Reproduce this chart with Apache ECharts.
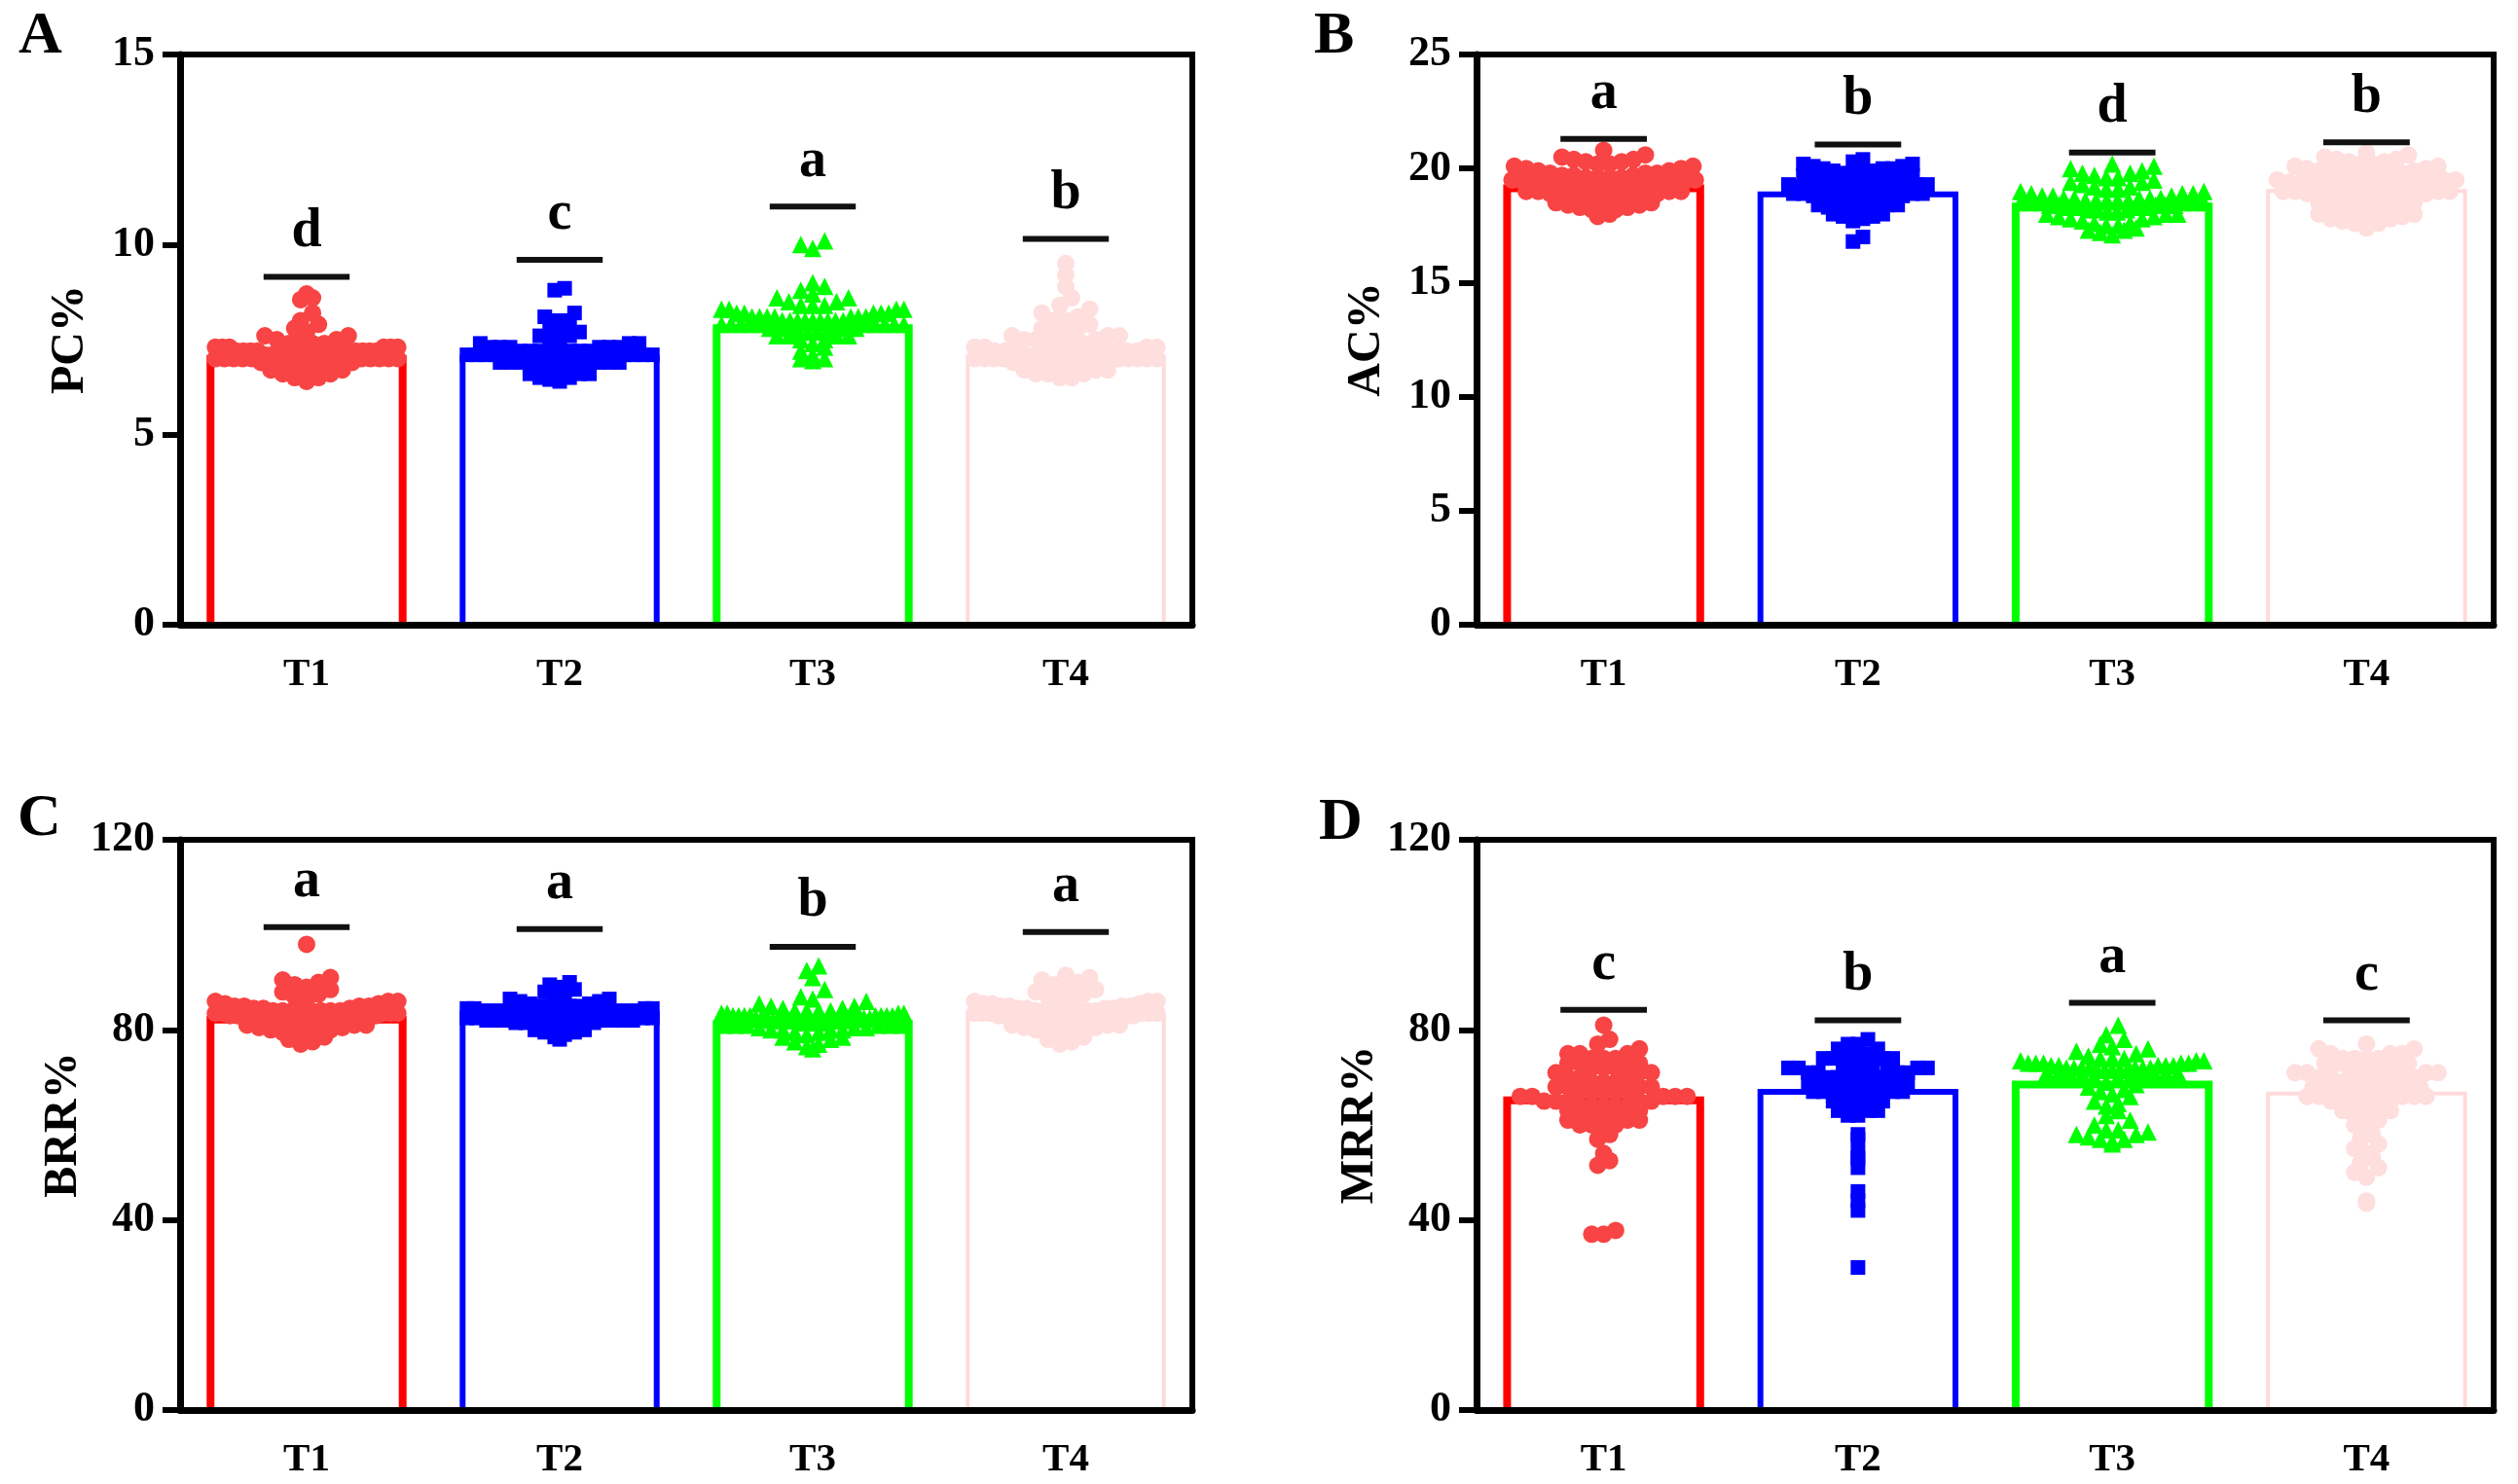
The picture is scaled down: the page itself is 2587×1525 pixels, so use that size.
<!DOCTYPE html>
<html>
<head>
<meta charset="utf-8">
<script src="https://cdn.jsdelivr.net/npm/echarts@6/dist/echarts.min.js"></script>
<style>
  html, body { margin: 0; padding: 0; background: #fff; }
  #chart { width: 2587px; height: 1525px; }
</style>
</head>
<body>
<div id="chart"></div>
<script>
// groups on every panel
const CATS = ['T1', 'T2', 'T3', 'T4']

// A: PC%
const A_T1 = [7.1,7.0,7.2,6.9,7.3,7.1,7.0,6.8,7.2,7.4,7.1,6.9,7.0,7.3,7.2,6.8,7.1,7.0,6.9,7.2,
  7.5,7.3,7.1,6.7,7.0,7.4,7.2,6.9,7.1,7.0,7.6,6.8,7.3,7.1,7.2,6.9,7.0,7.5,6.7,7.1,
  7.3,7.2,6.6,7.0,7.4,6.9,7.1,7.7,6.5,7.2,7.0,6.8,7.3,7.6,6.6,7.1,6.4,7.8,7.0,7.2,
  6.5,7.4,7.9,6.9,8.0,7.1,8.2,8.6,8.55,8.7,6.45,7.05]
const A_T2 = [7.0,7.1,6.9,7.2,7.0,7.3,6.8,7.1,7.0,7.2,6.9,7.4,7.1,7.0,6.8,7.3,7.2,6.9,7.1,7.0,
  7.5,6.7,7.2,7.1,6.9,7.3,7.0,6.8,7.6,7.1,7.2,6.6,7.4,7.0,6.9,7.7,7.1,6.7,7.3,7.0,
  7.2,6.5,7.8,7.1,6.9,7.5,6.6,7.0,7.9,7.2,6.4,8.0,7.1,6.8,8.1,7.3,6.5,8.2,7.0,7.4,
  6.9,8.0,7.6,7.1,6.6,7.2,8.8,8.85,7.0,6.45,7.3,7.8]
const A_T3 = [7.9,8.0,7.8,8.1,7.9,8.2,7.7,8.0,7.9,8.3,7.8,8.1,8.0,7.6,8.2,7.9,8.4,7.7,8.0,7.8,
  8.1,7.5,8.3,7.9,8.0,7.6,8.2,7.8,8.5,7.9,8.1,7.4,8.0,8.3,7.7,8.4,7.9,8.6,7.5,8.0,
  8.2,7.8,8.7,7.3,8.1,7.9,8.5,7.6,8.0,8.8,7.2,8.3,7.8,8.9,7.1,8.1,7.9,8.6,7.0,8.4,
  7.7,9.0,6.95,8.2,7.0,7.9,8.0,9.9,10.1,10.0,7.6,8.1]
const A_T4 = [7.0,7.1,6.9,7.2,7.3,7.0,6.8,7.1,7.4,6.9,7.2,7.0,7.5,6.7,7.1,7.3,6.8,7.6,7.0,7.2,
  6.9,7.7,7.1,6.6,7.4,7.0,7.8,6.8,7.2,7.5,6.7,7.9,7.1,6.9,7.3,8.0,6.6,7.2,7.6,7.0,
  8.1,6.5,7.4,7.1,8.2,6.8,7.7,7.0,8.3,6.6,7.3,7.2,6.9,7.5,8.0,6.7,7.1,7.8,6.5,8.4,
  7.0,8.6,8.9,9.2,9.5,7.2,6.9,7.4,7.1,6.8,7.6,7.0]
const A_MEAN = [7.1, 7.1, 7.9, 7.1]
const A_SIG = [9.15, 9.6, 11.0, 10.15]
const A_LETTERS = ['d', 'c', 'a', 'b']

// B: AC%
const B_T1 = [19.3,19.4,19.2,19.5,19.1,19.6,19.0,19.3,19.7,18.9,19.4,19.8,18.8,19.2,19.9,18.7,19.5,20.0,18.6,19.3,
  20.1,18.5,19.6,19.1,20.2,18.4,19.4,19.8,18.3,20.3,19.0,19.7,18.2,20.4,19.2,18.9,20.5,18.1,19.5,19.3,
  18.6,20.0,19.1,18.0,20.2,19.6,18.8,19.9,17.9,20.6,19.4,18.5,20.8,19.0,18.3,19.7,20.1,18.7,19.2,19.5,
  18.4,19.8,19.3,18.9,20.3,19.1,18.2,19.6,20.4,19.0,18.6,19.4]
const B_T2 = [19.0,19.1,18.9,19.2,18.8,19.3,18.7,19.4,19.0,18.6,19.5,18.5,19.6,18.9,19.7,18.4,19.8,19.1,18.3,19.9,
  18.2,20.0,19.0,18.1,19.4,20.1,18.0,19.6,18.8,20.2,17.9,19.2,19.8,18.6,20.3,17.8,19.5,19.0,18.4,19.9,
  17.7,20.4,19.3,18.5,19.7,18.9,20.0,18.2,19.1,19.6,18.7,20.1,17.9,19.4,18.3,19.8,20.2,18.0,19.2,18.6,
  19.5,17.0,16.8,19.0,18.8,19.3,20.0,18.4,19.7,18.1,19.1,18.9]
const B_T3 = [18.5,18.6,18.4,18.7,18.3,18.8,18.2,18.9,18.5,18.1,19.0,18.0,18.6,19.1,17.9,18.4,19.2,17.8,18.7,18.3,
  19.3,17.7,18.5,19.4,17.6,18.8,18.2,19.5,17.5,18.6,19.6,17.4,18.9,18.4,19.7,17.3,18.5,19.8,18.0,18.7,
  19.9,17.2,18.3,20.0,17.8,18.6,20.1,17.1,18.9,18.4,19.2,17.6,18.5,20.2,18.1,19.0,17.9,18.7,19.4,18.2,
  18.5,19.6,17.5,18.8,19.8,17.3,18.6,18.4,19.1,18.0,18.7,18.3]
const B_T4 = [19.1,19.2,19.0,19.3,18.9,19.4,18.8,19.5,19.1,18.7,19.6,18.6,19.7,19.0,18.5,19.8,18.4,19.9,19.2,18.3,
  20.0,18.2,20.1,19.1,18.1,20.2,18.0,19.5,20.3,17.9,19.3,20.4,17.8,18.8,20.5,17.7,19.6,18.6,20.6,17.6,
  19.0,20.7,17.5,19.4,18.9,20.0,17.4,19.8,18.5,19.2,20.3,18.1,19.7,18.7,20.1,17.8,19.3,19.9,18.3,19.5,
  18.9,20.4,17.6,19.1,18.4,19.6,20.2,18.0,19.0,18.6,19.4,18.8]
const B_MEAN = [19.3, 19.0, 18.5, 19.1]
const B_SIG = [21.3, 21.05, 20.7, 21.15]
const B_LETTERS = ['a', 'b', 'd', 'b']

// C: BRR%
const C_T1 = [83,84,82,83.5,82.5,84.5,81.5,83,85,81,84,82,85.5,80.5,83.5,82.5,86,80,84,83,
  86.5,79.5,82,84.5,87,79,83,85,81.5,87.5,78.5,84,82.5,88,78,83.5,85.5,81,88.5,77.5,
  84,82,89,80.5,83,86,79.5,89.5,83.5,84.5,82,90,81,85,83,90.5,80,84,82.5,91,
  86,83,79,84,82,85,98,83.5,81.5,84,77,82.5]
const C_T2 = [83,83.5,82.5,84,82,84.5,81.5,83,85,81,84,82.5,85.5,80.5,83.5,82,86,80,84.5,83,
  86.5,79.5,82,84,87,79,83.5,85,81.5,87.5,78.5,84,82.5,88,78,83,85.5,81,88.5,83.5,
  84,82,89,80.5,83,86,79.5,89.5,83.5,84.5,82,90,81,85,83,80,84,82.5,86.5,83,
  84,82,85,83.5,81.5,84.5,82,83,84,81,85,83]
const C_T3 = [82,82.5,81.5,83,81,83.5,80.5,82,84,80,83,81.5,84.5,79.5,82.5,81,85,79,83.5,82,
  85.5,78.5,81,83,86,78,82.5,84,80.5,86.5,77.5,83,81.5,87,77,82,84.5,80,82.5,76.5,
  83,81,83.5,79.5,82,85,78.5,82.5,83,81,84,80,82,83.5,76,81.5,82.5,80.5,84,82,
  88.5,91,92.5,93.5,82,81,83,82.5,81.5,83,80,82]
const C_T4 = [83.5,84,83,84.5,82.5,85,82,83.5,85.5,81.5,84,82.5,86,81,84.5,83,86.5,80.5,85,83.5,
  87,80,82,84,87.5,79.5,83,85.5,81.5,88,79,84,82.5,88.5,78.5,83.5,86,81,89,78,
  84.5,82,89.5,80.5,83,86.5,79.5,90,83.5,85,82,90.5,81,85.5,84,91,80,84,82.5,91.5,
  86,83,77,84,82,85,83.5,84.5,81.5,84,77.5,83]
const C_MEAN = [83, 83, 82, 83.5]
const C_SIG = [101.6, 101.2, 97.5, 100.6]
const C_LETTERS = ['a', 'a', 'b', 'a']

// D: MRR%
const D_T1 = [66,67,65,68,64,69,63,70,66,62,71,61,72,65,60,73,67,59,74,64,
  68,62,75,66,70,63,76,65,71,61,72,67,64,73,60,69,74,63,75,66,
  77,62,70,68,65,71,64,73,67,61,74,66,78,63,72,69,60,75,65,68,
  81,58,57,54,52.5,51.5,37,37.8,37,64,67,73]
const D_T2 = [68,69,67,70,66,71,65,72,68,64,73,63,74,67,62,75,69,70,76,66,
  71,65,77,68,72,64,78,67,73,70,63,74,69,66,75,71,62,76,68,72,
  65,73,70,67,74,69,64,71,66,77,68,73,70,75,63,72,67,69,71,74,
  58,57,54,53,51,46,44,42,30,68,70,66]
const D_T3 = [72,72.5,71.5,73,71,73.5,70.5,72,74,70,72.5,71.5,73,70.5,74,71,72,73.5,70,72.5,
  71,73,72,74.5,70.5,71.5,73,72,71,72.5,73.5,70,71.5,74,72,75,76,77,78,79,
  81,76.5,75.5,69,68,67,66.5,65,64,63,62,61,60,59,58.5,58,57.5,57,56.5,56,
  59,58,57,68.5,67.5,66,64.5,72,73,71,72.5,71.5]
const D_T4 = [68,69,67,70,66,71,65,72,68,64,73,63,74,67,62,75,69,61,76,66,
  70,65,77,68,71,64,72,67,73,63,74,69,66,75,70,62,76,68,71,65,
  73,60,72,67,74,69,66,70,64,75,68,71,63,73,67,59,58,57,56,55,
  54,53,52,51,50,49,44,43.5,70,72,66,74]
const D_MEAN = [66, 67.6, 69.3, 67]
const D_SIG = [84.2, 82, 85.7, 82]
const D_LETTERS = ['c', 'b', 'a', 'c']

const FONT = '"Liberation Serif", "Times New Roman", serif'
const BAR_COLORS = ['#FF0000', '#0000FF', '#00FF00', '#FFDADA']
const BAR_BORDER = [8, 6, 8, 4]
const DOT_COLORS = ['#F84444', '#0000FF', '#00FF00', '#FFDEDE']
const SYMBOLS = ['circle', 'rect', 'triangle', 'circle']
const SIZES = [18, 15, 18, 18]
const BAR_HALF = 0.395   // half bar width, in category units

const panels = [
    { tag: 'A', name: 'PC%', max: 15, interval: 5, groups: [A_T1, A_T2, A_T3, A_T4], mean: A_MEAN, sig: A_SIG, letters: A_LETTERS,
      grid: { left: 185, top: 56, width: 1040, height: 586 }, title: { left: 14, top: 2 } },
    { tag: 'B', name: 'AC%', max: 25, interval: 5, groups: [B_T1, B_T2, B_T3, B_T4], mean: B_MEAN, sig: B_SIG, letters: B_LETTERS,
      grid: { left: 1517, top: 56, width: 1045, height: 586 }, title: { left: 1345, top: 2 } },
    { tag: 'C', name: 'BRR%', max: 120, interval: 40, groups: [C_T1, C_T2, C_T3, C_T4], mean: C_MEAN, sig: C_SIG, letters: C_LETTERS,
      grid: { left: 185, top: 863, width: 1040, height: 586 }, title: { left: 13, top: 806 } },
    { tag: 'D', name: 'MRR%', max: 120, interval: 40, groups: [D_T1, D_T2, D_T3, D_T4], mean: D_MEAN, sig: D_SIG, letters: D_LETTERS,
      grid: { left: 1517, top: 863, width: 1045, height: 586 }, title: { left: 1350, top: 810 } },
]

// GraphPad style scatter: rows of points spread sideways inside the bar
function swarm(vals, gi, p, size){
    const pxPerVal = p.grid.height / p.max
    const catPx = p.grid.width / 4
    const half = catPx * BAR_HALF - size / 2
    const rowH = size * 0.68
    const rows = {}
    vals.forEach(v => {
        const r = Math.round(v * pxPerVal / rowH)
        ;(rows[r] = rows[r] || []).push(v)
    })
    const out = []
    Object.values(rows).forEach(row => {
        row.sort((a, b) => a - b)
        const n = row.length
        const step = n > 1 ? Math.min(size * 0.68, 2 * half / (n - 1)) : 0
        // center-out slots
        const slots = []
        for( let k = 0; k < n; k++ ) slots.push((k - (n - 1) / 2) * step)
        slots.sort((a, b) => Math.abs(a) - Math.abs(b))
        row.forEach((v, k) => out.push([gi + slots[k] / catPx, v]))
    })
    return out
}

const option = {
    animation: false,
    backgroundColor: '#fff',
    title: [], grid: [], xAxis: [], yAxis: [], series: []
}

panels.forEach((p, pi) => {
    option.title.push({
        text: p.tag, left: p.title.left, top: p.title.top,
        textStyle: { fontFamily: FONT, fontWeight: 'bold', fontSize: 62, color: '#000' }
    })
    option.grid.push({ ...p.grid, show: true, borderColor: '#000', borderWidth: 6, backgroundColor: 'transparent' })

    // category axis for the T labels
    option.xAxis.push({
        type: 'category', gridIndex: pi, data: CATS,
        axisLine: { lineStyle: { color: '#000', width: 7 } },
        axisTick: { alignWithLabel: true, length: 18, lineStyle: { color: '#000', width: 6 } },
        axisLabel: { color: '#000', fontFamily: FONT, fontWeight: 'bold', fontSize: 41, margin: 31 }
    })
    // hidden value axis so marks can sit beside the group centre
    option.xAxis.push({ type: 'value', gridIndex: pi, min: -0.5, max: 3.5, show: false })

    option.yAxis.push({
        type: 'value', gridIndex: pi, min: 0, max: p.max, interval: p.interval,
        name: p.name, nameLocation: 'middle', nameRotate: 90, nameGap: 88,
        nameTextStyle: { color: '#000', fontFamily: FONT, fontWeight: 'bold', fontSize: 48 },
        splitLine: { show: false },
        axisLine: { show: true, onZero: false, lineStyle: { color: '#000', width: 7 } },
        axisTick: { show: true, length: 18, lineStyle: { color: '#000', width: 6 } },
        axisLabel: { color: '#000', fontFamily: FONT, fontWeight: 'bold', fontSize: 44, margin: 26 }
    })

    // open bars: left, top and right sides only, the base sits on the axis
    option.series.push({
        type: 'custom', xAxisIndex: pi * 2 + 1, yAxisIndex: pi, z: 2,
        data: p.mean.map((v, i) => [i, v]),
        renderItem: (params, api) => {
            const i = api.value(0), v = api.value(1)
            const pts = [[i - BAR_HALF, 0], [i - BAR_HALF, v], [i + BAR_HALF, v], [i + BAR_HALF, 0]].map(c => api.coord(c))
            const w = BAR_BORDER[params.dataIndex]
            pts[0][1] -= 3; pts[3][1] -= 3
            // keep the line inside the bar outline
            pts[0][0] += w / 2; pts[1][0] += w / 2; pts[1][1] += w / 2
            pts[2][0] -= w / 2; pts[2][1] += w / 2; pts[3][0] -= w / 2
            return { type: 'polyline', shape: { points: pts },
                     style: { stroke: BAR_COLORS[params.dataIndex], lineWidth: w, fill: null, lineJoin: 'miter' } }
        }
    })

    p.groups.forEach((vals, gi) => {
        option.series.push({
            type: 'scatter', xAxisIndex: pi * 2 + 1, yAxisIndex: pi, z: 3,
            symbol: SYMBOLS[gi], symbolSize: SIZES[gi],
            itemStyle: { color: DOT_COLORS[gi], opacity: 1 },
            data: swarm(vals, gi, p, SIZES[gi])
        })
    })

    option.series.push({
        type: 'custom', xAxisIndex: pi * 2 + 1, yAxisIndex: pi, z: 4,
        data: p.sig.map((v, i) => [i, v]),
        renderItem: (params, api) => {
            const i = api.value(0), y = api.value(1)
            const a = api.coord([i - 0.17, y])
            const b = api.coord([i + 0.17, y])
            return { type: 'group', children: [
                { type: 'line', shape: { x1: a[0], y1: a[1], x2: b[0], y2: b[1] }, style: { stroke: '#111', lineWidth: 6 } },
                { type: 'text', x: (a[0] + b[0]) / 2, y: a[1] - 18,
                  style: { text: p.letters[params.dataIndex], fill: '#000', font: 'bold 56px ' + FONT, textAlign: 'center', textVerticalAlign: 'bottom' } }
            ]}
        }
    })
})

const chart = echarts.init(document.getElementById('chart'))
chart.setOption(option)
</script>
</body>
</html>
